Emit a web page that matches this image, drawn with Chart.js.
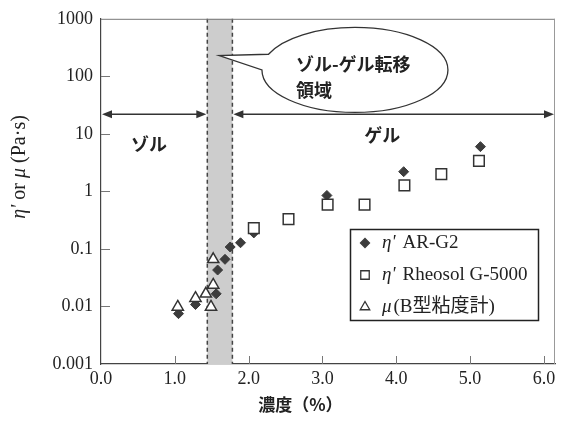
<!DOCTYPE html>
<html>
<head>
<meta charset="utf-8">
<script src="https://cdn.jsdelivr.net/npm/chart.js@4.4.0/dist/chart.umd.min.js"></script>
<style>
  html, body { margin: 0; padding: 0; background: #fff; }
  #c { display: block; }
</style>
</head>
<body>
<canvas id="c" width="564" height="422"></canvas>
<script>
// Concentration (%) and viscosity (Pa·s) for each instrument
const arG2X = [1.05, 1.28, 1.56, 1.58, 1.68, 1.75, 1.89, 2.07, 3.06, 4.10, 5.14];
const arG2Y = [0.0075, 0.0108, 0.0166, 0.043, 0.066, 0.108, 0.128, 0.19, 0.85, 2.2, 6.0];
const rheosolX = [2.07, 2.54, 3.07, 3.57, 4.11, 4.61, 5.12];
const rheosolY = [0.23, 0.33, 0.59, 0.59, 1.27, 2.0, 3.4];
const bTypeX = [1.04, 1.28, 1.42, 1.49, 1.52, 1.52];
const bTypeY = [0.0098, 0.0139, 0.0166, 0.0098, 0.0237, 0.066];

const seriesLabels = ["η' AR-G2", "η' Rheosol G-5000", "μ (B型粘度計)"];

const xTickValues = [0, 1, 2, 3, 4, 5, 6];
const xTickLabels = ['0.0', '1.0', '2.0', '3.0', '4.0', '5.0', '6.0'];
const yTickValues = [0.001, 0.01, 0.1, 1, 10, 100, 1000];
const yTickLabels = ['0.001', '0.01', '0.1', '1', '10', '100', '1000'];

// Sol–gel transition band and region markers
const transitionRange = [1.44, 1.78];
const regionArrowLevel = 22;
const solLabel = { text: 'ゾル', x: 0.65, y: 6.5 };
const gelLabel = { text: 'ゲル', x: 3.81, y: 9.6 };
const calloutLines = ['ゾル-ゲル転移', '領域'];
const calloutCenter = { x: 3.44, y: 129 };
const calloutTip = { x: 1.6, y: 230 };

const SERIF = "'Liberation Serif', 'Noto Sans CJK JP', serif";
const CJK = "'Noto Sans CJK JP', sans-serif";
const INK = '#222';

function toPoints(xs, ys) { return xs.map((v, i) => ({ x: v, y: ys[i] })); }

function drawArrow(ctx, x0, x1, y) {
  const hl = 10, hw = 4;
  ctx.beginPath();
  ctx.moveTo(x0 + hl - 1, y); ctx.lineTo(x1 - hl + 1, y);
  ctx.stroke();
  ctx.beginPath();
  ctx.moveTo(x0, y); ctx.lineTo(x0 + hl, y - hw); ctx.lineTo(x0 + hl, y + hw); ctx.closePath();
  ctx.fill();
  ctx.beginPath();
  ctx.moveTo(x1, y); ctx.lineTo(x1 - hl, y - hw); ctx.lineTo(x1 - hl, y + hw); ctx.closePath();
  ctx.fill();
}

// Draws a run of text parts, each either italic or upright
function drawMixed(ctx, parts, x, y, size) {
  let cx = x;
  for (const p of parts) {
    ctx.font = (p.italic ? 'italic ' : '') + size + 'px ' + SERIF;
    ctx.fillText(p.text, cx, y);
    cx += ctx.measureText(p.text).width;
  }
  return cx;
}
function mixedWidth(ctx, parts, size) {
  let w = 0;
  for (const p of parts) {
    ctx.font = (p.italic ? 'italic ' : '') + size + 'px ' + SERIF;
    w += ctx.measureText(p.text).width;
  }
  return w;
}

const decor = {
  id: 'decor',
  beforeDatasetsDraw(chart) {
    const { ctx, chartArea: a, scales: { x, y } } = chart;
    const bx0 = x.getPixelForValue(transitionRange[0]);
    const bx1 = x.getPixelForValue(transitionRange[1]);
    ctx.save();
    // shaded transition band with dashed edges
    ctx.fillStyle = '#cdcdcd';
    ctx.fillRect(bx0, a.top, bx1 - bx0, a.bottom - a.top);
    ctx.setLineDash([4, 3]);
    ctx.strokeStyle = '#444';
    ctx.lineWidth = 1.5;
    [bx0, bx1].forEach(px => {
      ctx.beginPath(); ctx.moveTo(px, a.top); ctx.lineTo(px, a.bottom); ctx.stroke();
    });
    ctx.setLineDash([]);

    // region arrows
    const ay = y.getPixelForValue(regionArrowLevel);
    ctx.strokeStyle = '#333'; ctx.fillStyle = '#333'; ctx.lineWidth = 1.5;
    drawArrow(ctx, a.left + 1, bx0 - 1, ay);
    drawArrow(ctx, bx1 + 1, a.right - 1, ay);

    // region names
    ctx.fillStyle = INK;
    ctx.font = 'bold 18px ' + CJK;
    ctx.textAlign = 'center'; ctx.textBaseline = 'middle';
    [solLabel, gelLabel].forEach(l => {
      ctx.fillText(l.text, x.getPixelForValue(l.x), y.getPixelForValue(l.y));
    });

    // callout bubble
    const cx = x.getPixelForValue(calloutCenter.x), cy = y.getPixelForValue(calloutCenter.y);
    const rx = 93, ry = 42.5;
    const tx = x.getPixelForValue(calloutTip.x), ty = y.getPixelForValue(calloutTip.y);
    const a0 = Math.PI, a1 = 3.52;
    ctx.beginPath();
    ctx.moveTo(cx + rx * Math.cos(a1), cy + ry * Math.sin(a1));
    ctx.lineTo(tx, ty);
    ctx.lineTo(cx + rx * Math.cos(a0), cy + ry * Math.sin(a0));
    ctx.ellipse(cx, cy, rx, ry, 0, a0, a1, true);
    ctx.closePath();
    ctx.fillStyle = '#fff'; ctx.fill();
    ctx.strokeStyle = '#333'; ctx.lineWidth = 1.3; ctx.stroke();
    ctx.fillStyle = INK;
    ctx.font = 'bold 18px ' + CJK;
    ctx.textAlign = 'left';
    ctx.fillText(calloutLines[0], cx - 59, cy - 6);
    ctx.fillText(calloutLines[1], cx - 59, cy + 20);
    ctx.restore();
  },
  afterDraw(chart) {
    const { ctx, chartArea: a, scales: { x, y } } = chart;
    ctx.save();
    // frame top and right
    ctx.lineWidth = 1;
    ctx.strokeStyle = '#777';
    ctx.beginPath(); ctx.moveTo(a.left, a.top + 0.5); ctx.lineTo(a.right, a.top + 0.5); ctx.stroke();
    ctx.strokeStyle = '#999';
    ctx.beginPath(); ctx.moveTo(a.right - 0.5, a.top); ctx.lineTo(a.right - 0.5, a.bottom); ctx.stroke();

    // inward tick marks
    ctx.strokeStyle = '#777';
    x.ticks.forEach(t => {
      if (t.value <= 0) return;
      const px = Math.round(x.getPixelForValue(t.value)) + 0.5;
      ctx.beginPath(); ctx.moveTo(px, a.bottom); ctx.lineTo(px, a.bottom - 8); ctx.stroke();
    });
    y.ticks.forEach(t => {
      if (t.value >= 1000 || t.value <= 0.001) return;
      const py = Math.round(y.getPixelForValue(t.value)) + 0.5;
      ctx.beginPath(); ctx.moveTo(a.left, py); ctx.lineTo(a.left + 9, py); ctx.stroke();
    });

    // axis titles
    ctx.fillStyle = INK;
    ctx.textBaseline = 'middle'; ctx.textAlign = 'left';
    const yTitle = [
      { text: "η'", italic: true }, { text: ' or ', italic: false },
      { text: 'μ', italic: true }, { text: ' (Pa·s)', italic: false }
    ];
    const w = mixedWidth(ctx, yTitle, 20);
    ctx.save();
    ctx.translate(20, 167);
    ctx.rotate(-Math.PI / 2);
    drawMixed(ctx, yTitle, -w / 2, 0, 20);
    ctx.restore();

    ctx.font = 'bold 17px ' + CJK;
    ctx.textAlign = 'center';
    ctx.fillText('濃度（%）', x.getPixelForValue(2.7), a.bottom + 41);

    // legend box
    const lx = 350, ly = 229, lw = 188, lh = 91;
    ctx.fillStyle = '#fff';
    ctx.fillRect(lx, ly, lw, lh);
    ctx.strokeStyle = '#222'; ctx.lineWidth = 1.5;
    ctx.strokeRect(lx + 0.5, ly + 0.5, lw, lh);
    const sizes = [4.5, 6, 5.5];
    chart.data.datasets.forEach((ds, i) => {
      const rowY = ly + 14 + i * 32;
      ctx.fillStyle = ds.backgroundColor;
      ctx.strokeStyle = ds.borderColor;
      ctx.lineWidth = 1.3;
      Chart.helpers.drawPoint(ctx, { pointStyle: ds.pointStyle, radius: sizes[i], rotation: 0, borderWidth: 1.3 }, lx + 15, rowY);
      const sp = ds.label.indexOf(' ');
      const head = ds.label.slice(0, sp), rest = ds.label.slice(sp + 1);
      ctx.fillStyle = INK;
      ctx.textAlign = 'left'; ctx.textBaseline = 'middle';
      const end = drawMixed(ctx, [{ text: head, italic: true }], lx + 32, rowY, 19);
      drawMixed(ctx, [{ text: rest, italic: false }], end + (i === 2 ? 2 : 7), rowY, 19);
    });
    ctx.restore();
  }
};

new Chart(document.getElementById('c'), {
  type: 'scatter',
  data: {
    datasets: [
      {
        label: seriesLabels[0], data: toPoints(arG2X, arG2Y),
        pointStyle: 'rectRot', pointRadius: 5,
        backgroundColor: '#3c3c3c', borderColor: '#3c3c3c', borderWidth: 1, order: 3
      },
      {
        label: seriesLabels[1], data: toPoints(rheosolX, rheosolY),
        pointStyle: 'rect', pointRadius: 7.5,
        backgroundColor: '#ffffff', borderColor: '#333', borderWidth: 1.5, order: 2
      },
      {
        label: seriesLabels[2], data: toPoints(bTypeX, bTypeY),
        pointStyle: 'triangle', pointRadius: 6.5,
        backgroundColor: '#ffffff', borderColor: '#333', borderWidth: 1.5, order: 1
      }
    ]
  },
  options: {
    responsive: false,
    animation: false,
    layout: { padding: { top: 16, right: 6, left: 0, bottom: 0 } },
    plugins: { legend: { display: false }, tooltip: { enabled: false } },
    scales: {
      x: {
        type: 'linear', min: 0, max: 6.15,
        grid: { display: false, drawTicks: false },
        border: { display: true, color: '#444', width: 1.2 },
        afterBuildTicks: s => { s.ticks = xTickValues.map(v => ({ value: v })); },
        afterFit: s => { s.height = 58; },
        ticks: {
          autoSkip: false, maxRotation: 0, padding: 4, color: INK,
          font: { family: SERIF, size: 18 },
          callback: v => xTickLabels[xTickValues.indexOf(v)]
        }
      },
      y: {
        type: 'logarithmic', min: 0.001, max: 1000,
        grid: { display: false, drawTicks: false },
        border: { display: true, color: '#444', width: 1.2 },
        afterBuildTicks: s => { s.ticks = yTickValues.map(v => ({ value: v })); },
        afterFit: s => { s.width = 101; },
        ticks: {
          autoSkip: false, padding: 8, color: INK,
          font: { family: SERIF, size: 18 },
          callback: v => yTickLabels[yTickValues.indexOf(v)]
        }
      }
    }
  },
  plugins: [decor]
});
</script>
</body>
</html>
